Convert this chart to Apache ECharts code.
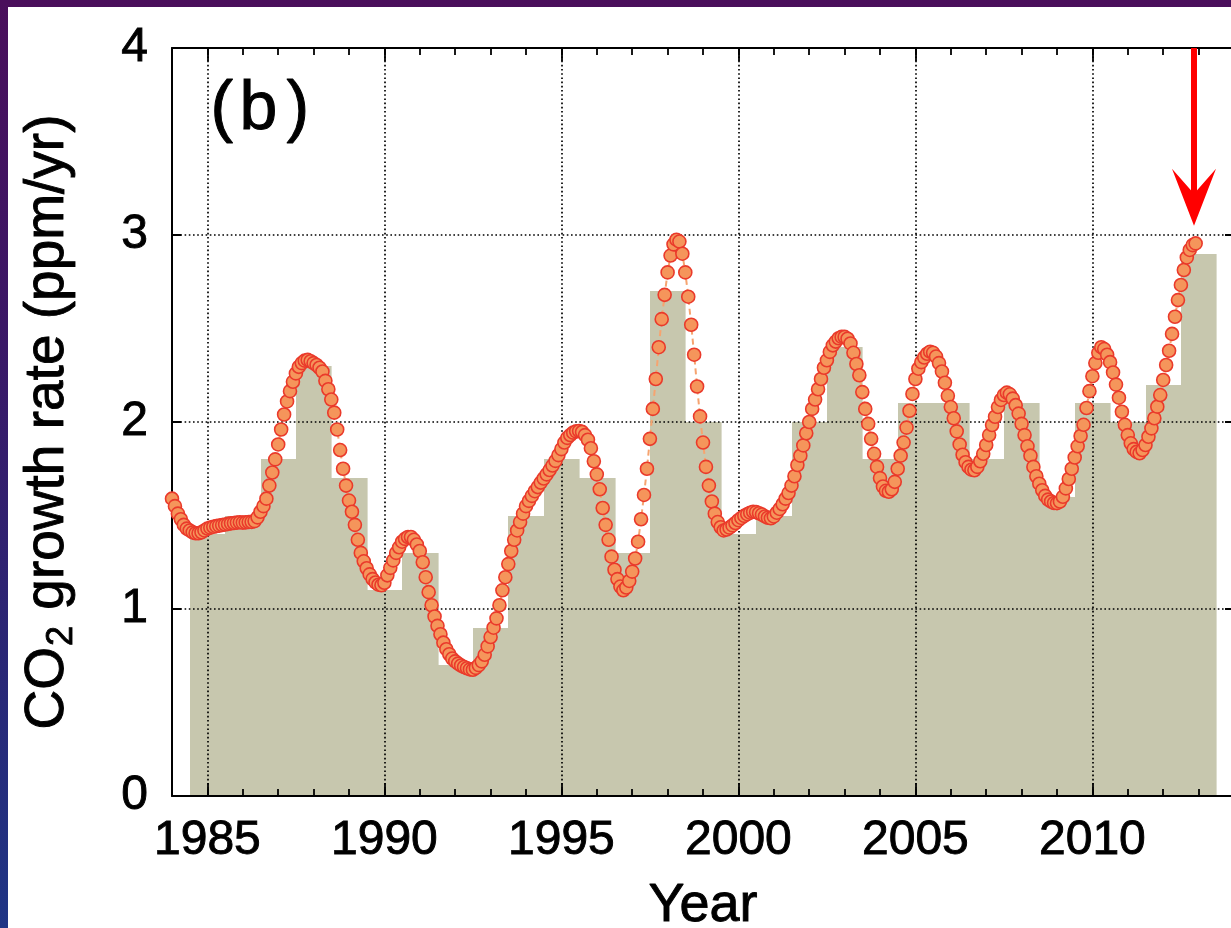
<!DOCTYPE html>
<html>
<head>
<meta charset="utf-8">
<script src="https://cdn.jsdelivr.net/npm/echarts@6/dist/echarts.min.js"></script>
<style>
  html, body { margin: 0; padding: 0; width: 1231px; height: 928px; overflow: hidden; }
  body { background: linear-gradient(180deg, #4a0f5b 0%, #3b1766 35%, #2a2675 70%, #1f3585 100%); position: relative; }
  #panel { position: absolute; left: 8px; top: 7px; right: 0; bottom: 0; background: #ffffff; }
  #chart { position: absolute; left: 0; top: 0; width: 1231px; height: 928px; }
</style>
</head>
<body>
<div id="panel"></div>
<div id="chart"></div>
<script>
// ---------------- data ----------------
// annual growth-rate boxes (centre year of each box, ppm/yr)
const barYears = [1985, 1986, 1987, 1988, 1989, 1990, 1991, 1992, 1993, 1994,
                  1995, 1996, 1997, 1998, 1999, 2000, 2001, 2002, 2003, 2004,
                  2005, 2006, 2007, 2008, 2009, 2010, 2011, 2012, 2013];
const barValues = [1.4, 1.5, 1.8, 2.3, 1.7, 1.1, 1.3, 0.7, 0.9, 1.5,
                   1.8, 1.7, 1.3, 2.7, 2.0, 1.4, 1.5, 2.0, 2.4, 1.8,
                   2.1, 2.1, 1.8, 2.1, 1.6, 2.1, 2.0, 2.2, 2.9];

// monthly growth rate curve, starting January 1984 (one value per month)
const curveStartYear = 1984;
const growthMonthly = [
  1.59, 1.55, 1.51, 1.48, 1.45, 1.43, 1.42, 1.41, 1.405, 1.405, 1.41, 1.42,        // 1984
  1.43, 1.435, 1.44, 1.443, 1.446, 1.449, 1.452, 1.455, 1.458, 1.46, 1.462, 1.464, // 1985
  1.462, 1.463, 1.465, 1.466, 1.47, 1.49, 1.52, 1.55, 1.59, 1.66, 1.73, 1.80,      // 1986
  1.88, 1.96, 2.04, 2.11, 2.165, 2.215, 2.26, 2.295, 2.315, 2.328, 2.332, 2.325,   // 1987
  2.315, 2.305, 2.29, 2.27, 2.22, 2.175, 2.12, 2.05, 1.96, 1.85, 1.75, 1.66,       // 1988
  1.58, 1.52, 1.45, 1.37, 1.30, 1.255, 1.218, 1.185, 1.16, 1.142, 1.13, 1.127,     // 1989
  1.14, 1.18, 1.22, 1.26, 1.30, 1.33, 1.36, 1.375, 1.385, 1.385, 1.37, 1.345,      // 1990
  1.31, 1.25, 1.17, 1.09, 1.02, 0.96, 0.91, 0.865, 0.82, 0.785, 0.758, 0.735,      // 1991
  0.72, 0.708, 0.698, 0.69, 0.683, 0.677, 0.675, 0.685, 0.70, 0.72, 0.755, 0.80,   // 1992
  0.85, 0.90, 0.95, 1.02, 1.10, 1.17, 1.24, 1.31, 1.37, 1.42, 1.465, 1.51,         // 1993
  1.55, 1.578, 1.605, 1.63, 1.652, 1.676, 1.698, 1.72, 1.743, 1.767, 1.792, 1.823, // 1994
  1.855, 1.89, 1.915, 1.93, 1.943, 1.95, 1.952, 1.947, 1.93, 1.905, 1.86, 1.79,    // 1995
  1.72, 1.64, 1.54, 1.45, 1.37, 1.28, 1.21, 1.16, 1.12, 1.10, 1.115, 1.15,         // 1996
  1.20, 1.27, 1.36, 1.48, 1.61, 1.75, 1.91, 2.07, 2.23, 2.40, 2.55, 2.68,          // 1997
  2.80, 2.89, 2.95, 2.975, 2.965, 2.90, 2.80, 2.67, 2.52, 2.36, 2.19, 2.03,        // 1998
  1.89, 1.76, 1.66, 1.575, 1.51, 1.465, 1.437, 1.42, 1.425, 1.435, 1.447, 1.46,    // 1999
  1.475, 1.487, 1.498, 1.507, 1.515, 1.52, 1.518, 1.512, 1.505, 1.495, 1.488, 1.485, // 2000
  1.495, 1.515, 1.535, 1.56, 1.59, 1.62, 1.66, 1.71, 1.77, 1.82, 1.875, 1.94,      // 2001
  2.00, 2.07, 2.12, 2.175, 2.23, 2.29, 2.33, 2.375, 2.41, 2.43, 2.448, 2.455,      // 2002
  2.455, 2.445, 2.42, 2.37, 2.31, 2.25, 2.16, 2.07, 1.99, 1.91, 1.83, 1.76,        // 2003
  1.70, 1.655, 1.632, 1.627, 1.64, 1.68, 1.75, 1.82, 1.89, 1.97, 2.06, 2.15,       // 2004
  2.23, 2.285, 2.32, 2.345, 2.365, 2.376, 2.37, 2.35, 2.315, 2.27, 2.21, 2.14,     // 2005
  2.08, 2.02, 1.95, 1.88, 1.825, 1.785, 1.76, 1.745, 1.742, 1.76, 1.79, 1.83,      // 2006
  1.877, 1.93, 1.984, 2.028, 2.08, 2.118, 2.144, 2.157, 2.148, 2.125, 2.09, 2.045, // 2007
  1.99, 1.93, 1.87, 1.82, 1.76, 1.71, 1.67, 1.635, 1.605, 1.585, 1.575, 1.567,     // 2008
  1.566, 1.575, 1.60, 1.645, 1.695, 1.75, 1.81, 1.87, 1.925, 1.985, 2.075, 2.165,  // 2009
  2.245, 2.315, 2.37, 2.40, 2.39, 2.36, 2.32, 2.265, 2.20, 2.13, 2.055, 1.985,     // 2010
  1.93, 1.886, 1.855, 1.84, 1.833, 1.85, 1.877, 1.921, 1.966, 2.02, 2.082, 2.144,  // 2011
  2.225, 2.305, 2.381, 2.471, 2.563, 2.652, 2.733, 2.813, 2.88, 2.92, 2.946, 2.955 // 2012
];

// axis ranges / ticks
const xRange = [1984, 2014];
const yRange = [0, 4];
const yTickStep = 1;

// red arrow annotation: [year, from value, tip value]
const arrowYear = 2012.87;
const arrowFrom = 4;
const arrowTip = 3.05;

const xAxisName = 'Year';

// ---------------- chart ----------------
const FONT = 'Liberation Sans, Arial, Helvetica, sans-serif';
const chart = echarts.init(document.getElementById('chart'), null, { renderer: 'canvas' });

const gridLine = { color: '#000', width: 1.7, type: [1.6, 2.6] };
const tickStyle = { color: '#000', width: 1.8 };
const heavyText = { textBorderColor: '#000', textBorderWidth: 0.9 };

const barData = barYears.map((y, i) => [y, barValues[i]]);
const curveData = growthMonthly.map((v, i) => [curveStartYear + i / 12, v]);

const option = {
  backgroundColor: 'transparent',
  animation: false,
  textStyle: { fontFamily: FONT },
  grid: {
    left: 172, top: 48, width: 1062, height: 748,
    containLabel: false, outerBoundsMode: 'none', show: false
  },
  xAxis: [
    { // main bottom axis: labels, 5-year ticks, grid
      type: 'value', min: xRange[0], max: xRange[1], splitNumber: 6, position: 'bottom', z: 2,
      axisLine: { show: true, onZero: false, lineStyle: { color: '#000', width: 2 } },
      axisTick: { show: true, inside: true, length: 13, lineStyle: tickStyle },
      axisLabel: Object.assign({
        show: true, margin: 21, fontSize: 48, color: '#000', fontFamily: FONT,
        showMinLabel: false, showMaxLabel: false,
        formatter: v => (v % 5 === 0 ? String(v) : '')
      }, heavyText),
      splitLine: { show: true, lineStyle: gridLine },
      name: xAxisName, nameLocation: 'middle', nameGap: 83, nameMoveOverlap: false,
      nameTextStyle: Object.assign({ fontSize: 54, color: '#000', fontFamily: FONT }, heavyText)
    },
    { // minor yearly ticks bottom
      type: 'value', min: xRange[0], max: xRange[1], interval: 1, position: 'bottom', z: 2,
      axisLine: { show: false, onZero: false },
      axisTick: { show: true, inside: true, length: 7, lineStyle: tickStyle },
      axisLabel: { show: false }, splitLine: { show: false }
    },
    { // top border with 5-year ticks
      type: 'value', min: xRange[0], max: xRange[1], splitNumber: 6, position: 'top', z: 2,
      axisLine: { show: true, onZero: false, lineStyle: { color: '#000', width: 2 } },
      axisTick: { show: true, inside: true, length: 13, lineStyle: tickStyle },
      axisLabel: { show: false }, splitLine: { show: false }
    },
    { // top minor yearly ticks
      type: 'value', min: xRange[0], max: xRange[1], interval: 1, position: 'top', z: 2,
      axisLine: { show: false, onZero: false },
      axisTick: { show: true, inside: true, length: 7, lineStyle: tickStyle },
      axisLabel: { show: false }, splitLine: { show: false }
    }
  ],
  yAxis: [
    {
      type: 'value', min: yRange[0], max: yRange[1], interval: yTickStep, position: 'left', z: 2,
      axisLine: { show: true, onZero: false, lineStyle: { color: '#000', width: 2 } },
      axisTick: { show: true, inside: true, length: 9, lineStyle: { color: '#000', width: 2 } },
      axisLabel: Object.assign({ show: true, margin: 24, fontSize: 48, color: '#000', fontFamily: FONT }, heavyText),
      splitLine: { show: true, lineStyle: gridLine },
      name: '{a|CO}{s|2}{a| growth rate (ppm/yr)}',
      nameLocation: 'middle', nameRotate: 90, nameGap: 92, nameMoveOverlap: false,
      nameTextStyle: {
        color: '#000', fontFamily: FONT,
        rich: {
          a: Object.assign({ fontSize: 55, lineHeight: 64, color: '#000', fontFamily: FONT }, heavyText),
          s: Object.assign({ fontSize: 36, color: '#000', fontFamily: FONT, verticalAlign: 'top', padding: [28, 1, 0, 1] }, heavyText)
        }
      }
    },
    {
      type: 'value', min: yRange[0], max: yRange[1], interval: yTickStep, position: 'right', z: 2,
      axisLine: { show: true, onZero: false, lineStyle: { color: '#000', width: 2 } },
      axisTick: { show: true, inside: true, length: 9, lineStyle: { color: '#000', width: 2 } },
      axisLabel: { show: false }, splitLine: { show: false }
    }
  ],
  graphic: [
    { type: 'text', left: 210, top: 76, z: 10,
      style: { text: '(', font: '68px ' + FONT, fill: '#000', stroke: '#000', lineWidth: 1 } },
    { type: 'text', left: 239, top: 76, z: 10,
      style: { text: 'b', font: '68px ' + FONT, fill: '#000', stroke: '#000', lineWidth: 1 } },
    { type: 'text', left: 286, top: 76, z: 10,
      style: { text: ')', font: '68px ' + FONT, fill: '#000', stroke: '#000', lineWidth: 1 } }
  ],
  series: [
    {
      name: 'annual', type: 'custom', xAxisIndex: 0, yAxisIndex: 0, z: 1,
      data: barData,
      clip: true,
      renderItem: function (params, api) {
        const x = api.value(0), v = api.value(1);
        const p0 = api.coord([x - 0.5, v]);
        const p1 = api.coord([x + 0.5, 0]);
        const x0 = Math.round(p0[0]), x1 = Math.round(p1[0]);
        const y0 = Math.round(p0[1]), y1 = Math.round(p1[1]);
        return {
          type: 'rect',
          shape: { x: x0, y: y0, width: x1 - x0 + 0.6, height: y1 - y0 },
          style: { fill: '#c7c7ae' }
        };
      }
    },
    {
      name: 'monthly', type: 'line', xAxisIndex: 0, yAxisIndex: 0, z: 3,
      data: curveData,
      clip: false,
      symbol: 'circle', symbolSize: 13, showAllSymbol: true,
      lineStyle: { color: '#f6a470', width: 2, type: [6, 4] },
      itemStyle: { color: '#f5955b', borderColor: '#ea3a2b', borderWidth: 1.6 },
      emphasis: { disabled: true }
    },
    {
      name: 'arrow', type: 'custom', xAxisIndex: 0, yAxisIndex: 0, z: 6,
      clip: false,
      data: [[arrowYear, arrowFrom, arrowTip]],
      renderItem: function (params, api) {
        const top = api.coord([api.value(0), api.value(1)]);
        const tip = api.coord([api.value(0), api.value(2)]);
        const x = tip[0], ty = tip[1];
        return {
          type: 'group',
          children: [
            { type: 'line', shape: { x1: x, y1: top[1], x2: x, y2: ty - 30 },
              style: { stroke: '#ff0000', lineWidth: 6 } },
            { type: 'polygon',
              shape: { points: [[x, ty], [x - 22, ty - 57], [x, ty - 32], [x + 22, ty - 57]] },
              style: { fill: '#ff0000' } }
          ]
        };
      }
    }
  ]
};
chart.setOption(option);
</script>
</body>
</html>
